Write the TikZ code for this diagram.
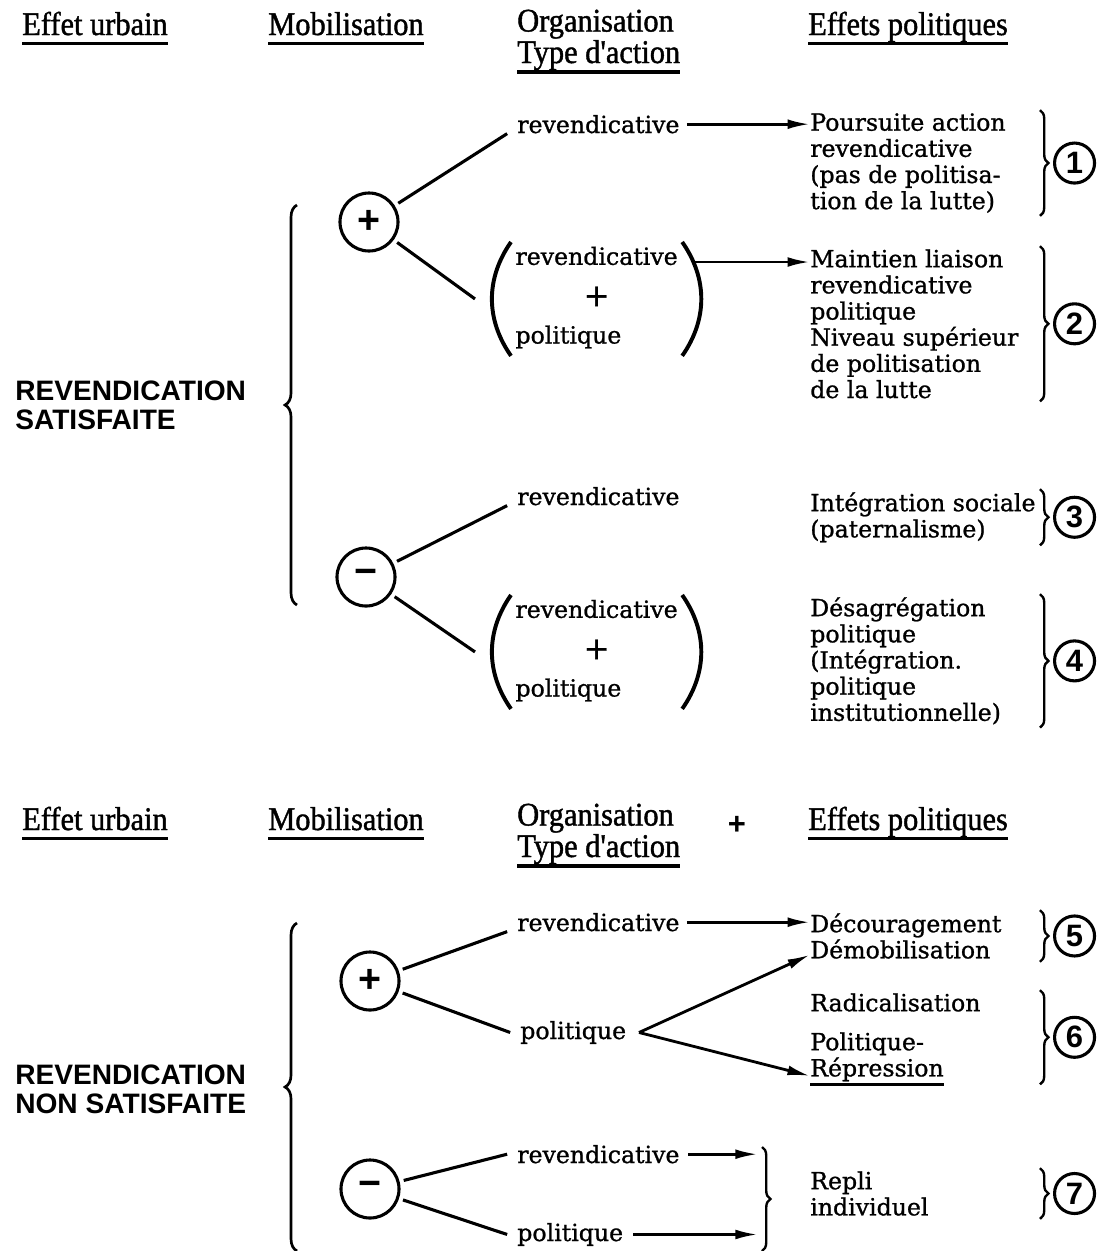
\documentclass[tikz,border=0pt]{standalone}
\usepackage{fontspec}
\setmainfont{DejaVu Serif}
\newfontfamily\bodyfam{DejaVu Serif}[FakeBold=1]
\newfontfamily\hdrfont{Liberation Serif}[FakeBold=1.2, FakeStretch=0.92]
\newfontfamily\capfont{Liberation Sans}
\usetikzlibrary{positioning, arrows.meta, calc, decorations.pathreplacing}
\newcommand\bodyfont{\bodyfam\fontsize{16.8}{18.6}\selectfont}

\tikzset{
  lbl/.style={inner sep=0pt, anchor=base west, font=\bodyfont},
  eff/.style={inner sep=0pt, anchor=north west, align=left, font=\bodyfont},
  grp/.style={inner xsep=3pt, inner ysep=3pt, anchor=north west, font=\bodyfont},
  hdr/.style={inner sep=0pt, anchor=base west, font=\hdrfont\fontsize{23.5}{19.6}\selectfont},
  cause/.style={inner sep=0pt, anchor=north west, align=left, font=\capfont\bfseries\fontsize{20}{20}\selectfont},
  uline/.style={line width=2.4pt},
  sgn/.style={circle, draw, line width=2.2pt, minimum size=1.45cm, inner sep=0pt, font=\capfont\bfseries\fontsize{28}{28}\selectfont},
  num/.style={circle, draw, line width=2.2pt, minimum size=1cm, inner sep=0pt, anchor=west, font=\capfont\bfseries\fontsize{22}{22}\selectfont},
  link/.style={line width=2.2pt, shorten <=3pt},
  flow/.style={line width=2pt, -{Latex[length=16pt, width=7pt]}},
  paren/.style={line width=2.8pt},
  rbrace/.style={decorate, decoration={brace, amplitude=6pt}, line width=1.7pt},
  bigbrace/.style={decorate, decoration={brace, amplitude=8.5pt}, line width=1.9pt},
}

\begin{document}
\begin{tikzpicture}[x=0.025cm, y=0.025cm]
  \fill[white] (0,0) rectangle (1110,-1251);
  \useasboundingbox (0,0) rectangle (1110,-1251);
  \coordinate (bx) at (1040,0);
  \coordinate (nx) at (1053,0);

  % --- revendication satisfaite ---
  \node[hdr] (eu1) at (22,-35) {Effet urbain};
  \node[hdr] (mob1) at (268,-35) {Mobilisation};
  \node[hdr, align=left] (typ1) at (517,-63) {Organisation\\Type d'action};
  \node[hdr] (ep1) at (808,-35) {Effets politiques};

  \node[cause] (sat) at (15,-381) {REVENDICATION\\SATISFAITE};
  \draw[bigbrace] (297,-605) -- (297,-205);

  \node[sgn] (p1) at (369,-222) {+};
  \node[sgn] (m1) at (366,-577) {−};

  \node[lbl] (r1) at (517,-133) {revendicative};
  \node[grp] (g1) at (511,-242) {\begin{tabular}{@{}l@{}}revendicative\\[10pt]
    \multicolumn{1}{@{}c@{}}{\fontsize{22}{22}\selectfont +}\\[8pt]politique\end{tabular}};
  \node[lbl] (r3) at (517,-505) {revendicative};
  \node[grp] (g3) at (511,-595) {\begin{tabular}{@{}l@{}}revendicative\\[10pt]
    \multicolumn{1}{@{}c@{}}{\fontsize{22}{22}\selectfont +}\\[8pt]politique\end{tabular}};

  \draw[link] (p1) -- ([xshift=-7pt]r1.south west);
  \draw[link] (p1) -- ([xshift=-0.9cm]g1.west);
  \draw[link] (m1) -- ([xshift=-7pt]r3.south west);
  \draw[link] (m1) -- ([xshift=-0.9cm]g3.west);

  \node[eff] (e1) at (810,-113) {Poursuite action\\revendicative\\(pas de politisa-\\tion de la lutte)};
  \node[eff] (e2) at (810,-249) {Maintien liaison\\revendicative\\politique\\Niveau supérieur\\de politisation\\de la lutte};
  \node[eff] (e3) at (810,-492) {Intégration sociale\\(paternalisme)};
  \node[eff] (e4) at (810,-597) {Désagrégation\\politique\\(Intégration.\\politique\\institutionnelle)};

  \draw[flow, shorten <=5pt] (r1.east) -- (r1.east -| e1.west);
  \draw[flow, shorten <=9pt] ([yshift=-0.5cm]g1.north east) -- ([yshift=-0.5cm]g1.north east -| e2.west);

  % --- revendication non satisfaite ---
  \node[hdr] (eu2) at (22,-830) {Effet urbain};
  \node[hdr] (mob2) at (268,-830) {Mobilisation};
  \node[hdr, align=left] (typ2) at (517,-857) {Organisation\\Type d'action};
  \node[hdr] (ep2) at (808,-830) {Effets politiques};
  \node[inner sep=0pt, font=\capfont\bfseries\fontsize{22}{22}\selectfont] (hplus) at (737,-825) {+};

  \node[cause] (nsat) at (15,-1065) {REVENDICATION\\NON SATISFAITE};
  \draw[bigbrace] (297,-1251) -- (297,-923);

  \node[sgn] (p2) at (370,-981) {+};
  \node[sgn] (m2) at (370,-1189) {−};

  \node[lbl] (r5) at (517,-931) {revendicative};
  \node[lbl] (q5) at (520,-1039) {politique};
  \node[lbl] (r7) at (517,-1163) {revendicative};
  \node[lbl] (q7) at (517,-1241) {politique};

  \draw[link] (p2) -- ([xshift=-7pt]r5.south west);
  \draw[link] (p2) -- ([xshift=-7pt]q5.west);
  \draw[link] (m2) -- ([xshift=-7pt]r7.west);
  \draw[link] (m2) -- ([xshift=-7pt]q7.west);

  \node[eff] (e5) at (810,-913) {Découragement\\Démobilisation};
  \node[eff] (e6a) at (810,-993) {Radicalisation};
  \node[eff] (e6b) at (810,-1032) {Politique-\\Répression};
  \node[eff] (e7) at (810,-1171) {Repli\\individuel};
  \draw[uline] ([yshift=-2pt]e6b.south west) -- ([yshift=-2pt]e6b.south east);

  \draw[flow, shorten <=5pt] (r5.east) -- (r5.east -| e5.west);
  \draw[flow] ([xshift=9pt]q5.east) -- ([yshift=3pt]e5.south west);
  \draw[flow] ([xshift=9pt]q5.east) -- ([yshift=4pt]e6b.south west);

  \coordinate (mbt) at (762,-1147);
  \coordinate (mbb) at (762,-1251);
  \draw[rbrace] (mbt) -- (mbb);
  \draw[flow, shorten <=6pt, shorten >=3pt] (r7.east) -- (r7.east -| mbt);
  \draw[flow, shorten <=7pt, shorten >=3pt] (q7.east) -- (q7.east -| mbt);

  % underlined headers
  \foreach \h in {eu1,mob1,ep1,eu2,mob2,ep2}
    \draw[uline] ([yshift=-6pt]\h.base west) -- ([yshift=-6pt]\h.base east);
  \foreach \h in {typ1,typ2}
    \draw[uline] ([yshift=-1pt]\h.south west) -- ([yshift=-1pt]\h.south east);

  % parentheses round the combined actions
  \foreach \g in {g1,g3} {
    \draw[paren] (\g.north west) to[bend right=35] (\g.south west);
    \draw[paren] (\g.north east) to[bend left=35] (\g.south east);
  }

  % braces and numbered effects
  \foreach \e/\n in {e1/1,e2/2,e3/3,e4/4,e5/5,e7/7} {
    \draw[rbrace] ([yshift=2pt]\e.north -| bx) -- ([yshift=-2pt]\e.south -| bx);
    \node[num] (n\n) at (\e.east -| nx) {\n};
  }
  \draw[rbrace] ([yshift=2pt]e6a.north -| bx) -- ([yshift=-2pt]e6b.south -| bx);
  \node[num] (n6) at ($(e6a.north -| nx)!0.5!(e6b.south -| nx)$) {6};
\end{tikzpicture}
\end{document}
